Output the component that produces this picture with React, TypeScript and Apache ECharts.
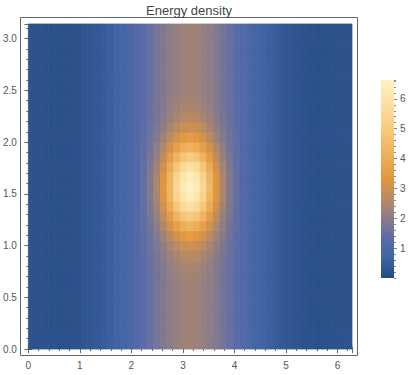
import { useEffect, useRef } from "react";
import * as echarts from "echarts";

const titleText = "Energy density";
const xMax = 2 * Math.PI;
const yMax = Math.PI;
const xCells = 49;
const yCells = 33;
const colorMin = 0;
const colorMax = 6.63;

// energy density along rows outside the central bump (vertical stripes)
const baseRow = [
  0.2, 0.2, 0.19, 0.18, 0.17, 0.17, 0.18, 0.21, 0.25, 0.31,
  0.38, 0.47, 0.58, 0.7, 0.84, 0.99, 1.15, 1.32, 1.5, 1.68,
  1.86, 2.02, 2.15, 2.25, 2.3, 2.25, 2.15, 2.02, 1.86, 1.68,
  1.5, 1.32, 1.15, 0.99, 0.84, 0.7, 0.58, 0.47, 0.38, 0.31,
  0.25, 0.21, 0.18, 0.17, 0.17, 0.18, 0.19, 0.2, 0.2,
];

// central bump: columns 17..31, rows 7..25
const bumpFirstCol = 17;
const bumpFirstRow = 7;
const bumpRows = [
  [1.32, 1.51, 1.69, 1.88, 2.06, 2.21, 2.32, 2.37, 2.32, 2.21, 2.06, 1.88, 1.69, 1.51, 1.32],
  [1.33, 1.52, 1.71, 1.92, 2.11, 2.28, 2.41, 2.47, 2.41, 2.28, 2.11, 1.92, 1.71, 1.52, 1.33],
  [1.33, 1.53, 1.75, 1.98, 2.22, 2.43, 2.59, 2.67, 2.59, 2.43, 2.22, 1.98, 1.75, 1.53, 1.33],
  [1.35, 1.56, 1.81, 2.1, 2.4, 2.69, 2.91, 3.0, 2.91, 2.69, 2.4, 2.1, 1.81, 1.56, 1.35],
  [1.37, 1.61, 1.91, 2.28, 2.69, 3.08, 3.39, 3.52, 3.39, 3.08, 2.69, 2.28, 1.91, 1.61, 1.37],
  [1.39, 1.67, 2.04, 2.52, 3.07, 3.62, 4.05, 4.22, 4.05, 3.62, 3.07, 2.52, 2.04, 1.67, 1.39],
  [1.42, 1.74, 2.19, 2.79, 3.51, 4.24, 4.81, 5.03, 4.81, 4.24, 3.51, 2.79, 2.19, 1.74, 1.42],
  [1.45, 1.81, 2.33, 3.06, 3.94, 4.84, 5.54, 5.82, 5.54, 4.84, 3.94, 3.06, 2.33, 1.81, 1.45],
  [1.47, 1.86, 2.44, 3.26, 4.25, 5.28, 6.07, 6.39, 6.07, 5.28, 4.25, 3.26, 2.44, 1.86, 1.47],
  [1.48, 1.88, 2.48, 3.33, 4.37, 5.44, 6.27, 6.6, 6.27, 5.44, 4.37, 3.33, 2.48, 1.88, 1.48],
  [1.47, 1.86, 2.44, 3.26, 4.25, 5.28, 6.07, 6.39, 6.07, 5.28, 4.25, 3.26, 2.44, 1.86, 1.47],
  [1.45, 1.81, 2.33, 3.06, 3.94, 4.84, 5.54, 5.82, 5.54, 4.84, 3.94, 3.06, 2.33, 1.81, 1.45],
  [1.42, 1.74, 2.19, 2.79, 3.51, 4.24, 4.81, 5.03, 4.81, 4.24, 3.51, 2.79, 2.19, 1.74, 1.42],
  [1.39, 1.67, 2.04, 2.52, 3.07, 3.62, 4.05, 4.22, 4.05, 3.62, 3.07, 2.52, 2.04, 1.67, 1.39],
  [1.37, 1.61, 1.91, 2.28, 2.69, 3.08, 3.39, 3.52, 3.39, 3.08, 2.69, 2.28, 1.91, 1.61, 1.37],
  [1.35, 1.56, 1.81, 2.1, 2.4, 2.69, 2.91, 3.0, 2.91, 2.69, 2.4, 2.1, 1.81, 1.56, 1.35],
  [1.33, 1.53, 1.75, 1.98, 2.22, 2.43, 2.59, 2.67, 2.59, 2.43, 2.22, 1.98, 1.75, 1.53, 1.33],
  [1.33, 1.52, 1.71, 1.92, 2.11, 2.28, 2.41, 2.47, 2.41, 2.28, 2.11, 1.92, 1.71, 1.52, 1.33],
  [1.32, 1.51, 1.69, 1.88, 2.06, 2.21, 2.32, 2.37, 2.32, 2.21, 2.06, 1.88, 1.69, 1.51, 1.32],
];

const palette = [
  "#264b82", "#3f62a3", "#5a6ca8", "#8a7c88", "#b88a62", "#e0963f",
  "#ecab55", "#f3c06e", "#f8d48c", "#fce4a8", "#fff2c4",
];

const FONT = "'Liberation Sans', Arial, sans-serif";
const tickColor = "#666";
const labelColor = "#555";

const dx = xMax / xCells;
const dy = yMax / yCells;

function buildCells() {
  const out: number[][] = [];
  for (let j = 0; j < yCells; j++) {
    for (let i = 0; i < xCells; i++) {
      const r = j - bumpFirstRow;
      const c = i - bumpFirstCol;
      const inPatch = r >= 0 && r < bumpRows.length && c >= 0 && c < bumpRows[0].length;
      const v = inPatch ? bumpRows[r][c] : baseRow[i];
      out.push([(i + 0.5) * dx, (j + 0.5) * dy, v]);
    }
  }
  return out;
}

function frameAxis(
  position: string,
  max: number,
  interval: number,
  len: number,
  offset: number,
  label: any
) {
  return {
    type: "value",
    gridIndex: 0,
    position,
    min: 0,
    max,
    interval,
    offset,
    axisLine: { show: false },
    splitLine: { show: false },
    axisTick: { show: true, inside: true, length: len, lineStyle: { color: tickColor, width: 1 } },
    axisLabel: label
      ? { show: true, color: labelColor, fontSize: 10, fontFamily: FONT, showMaxLabel: false, ...label }
      : { show: false },
  };
}

export default function App() {
  const ref = useRef<HTMLDivElement>(null);
  useEffect(() => {
    if (!ref.current) return;
    const chart = echarts.init(ref.current, undefined, { renderer: "svg" });
    const cells = buildCells();
    const stops = palette.map((c, i) => ({ offset: i / (palette.length - 1), color: c }));
    chart.setOption({
      animation: false,
      textStyle: { fontFamily: FONT },
      grid: [
        { left: 27, top: 24, width: 325, height: 325 },
        { left: 381, top: 80, width: 13, height: 198 },
      ],
      xAxis: [
        frameAxis("bottom", xMax, 1, 4, 6.5, { margin: 5, formatter: (v: number) => String(Math.round(v)) }),
        frameAxis("bottom", xMax, 0.2, 2, 6.5, null),
        frameAxis("top", xMax, 1, 4, 6.5, null),
        frameAxis("top", xMax, 0.2, 2, 6.5, null),
        { type: "category", gridIndex: 1, data: [""], show: false },
      ],
      yAxis: [
        frameAxis("left", yMax, 0.5, 4, 6.5, { margin: 5, formatter: (v: number) => v.toFixed(1) }),
        frameAxis("left", yMax, 0.1, 2, 6.5, null),
        frameAxis("right", yMax, 0.5, 4, 5.5, null),
        frameAxis("right", yMax, 0.1, 2, 5.5, null),
        {
          type: "value",
          gridIndex: 1,
          position: "right",
          min: colorMin,
          max: colorMax,
          interval: 1,
          axisLine: { show: false },
          splitLine: { show: false },
          axisTick: { show: true, inside: false, length: 3, lineStyle: { color: "#777" } },
          axisLabel: {
            show: true,
            color: labelColor,
            fontSize: 10,
            fontFamily: FONT,
            margin: 6,
            showMinLabel: false,
            showMaxLabel: false,
          },
        },
        {
          type: "value",
          gridIndex: 1,
          position: "right",
          min: colorMin,
          max: colorMax,
          interval: 0.2,
          axisLine: { show: false },
          splitLine: { show: false },
          axisTick: { show: true, inside: false, length: 2, lineStyle: { color: "#888" } },
          axisLabel: { show: false },
        },
      ],
      visualMap: {
        type: "continuous",
        show: false,
        min: colorMin,
        max: colorMax,
        dimension: 2,
        seriesIndex: 0,
        inRange: { color: palette },
      },
      graphic: [
        {
          type: "rect",
          shape: { x: 20.5, y: 17.5, width: 337, height: 338 },
          style: { fill: "none", stroke: tickColor, lineWidth: 1 },
          silent: true,
        },
        {
          type: "text",
          x: 189,
          y: 10,
          style: {
            text: titleText,
            fontSize: 13,
            fontFamily: FONT,
            fill: "#444",
            align: "center",
            verticalAlign: "middle",
          },
        },
      ],
      series: [
        {
          type: "custom",
          xAxisIndex: 0,
          yAxisIndex: 0,
          data: cells,
          encode: { x: 0, y: 1 },
          renderItem: (params: any, api: any) => {
            const xc = api.value(0);
            const yc = api.value(1);
            const p0 = api.coord([xc - dx / 2, yc + dy / 2]);
            const p1 = api.coord([xc + dx / 2, yc - dy / 2]);
            const color = api.visual("color");
            return {
              type: "rect",
              shape: { x: p0[0], y: p0[1], width: p1[0] - p0[0], height: p1[1] - p0[1] },
              style: { fill: color, stroke: color, lineWidth: 0.8 },
            };
          },
        },
        {
          type: "bar",
          xAxisIndex: 4,
          yAxisIndex: 4,
          data: [colorMax],
          barWidth: "100%",
          itemStyle: {
            color: new echarts.graphic.LinearGradient(0, 1, 0, 0, stops),
          },
          silent: true,
        },
      ],
    });
    return () => chart.dispose();
  }, []);
  return (
    <div
      ref={ref}
      style={{ position: "fixed", left: 0, top: 0, width: 415, height: 375, background: "#fff" }}
    />
  );
}
